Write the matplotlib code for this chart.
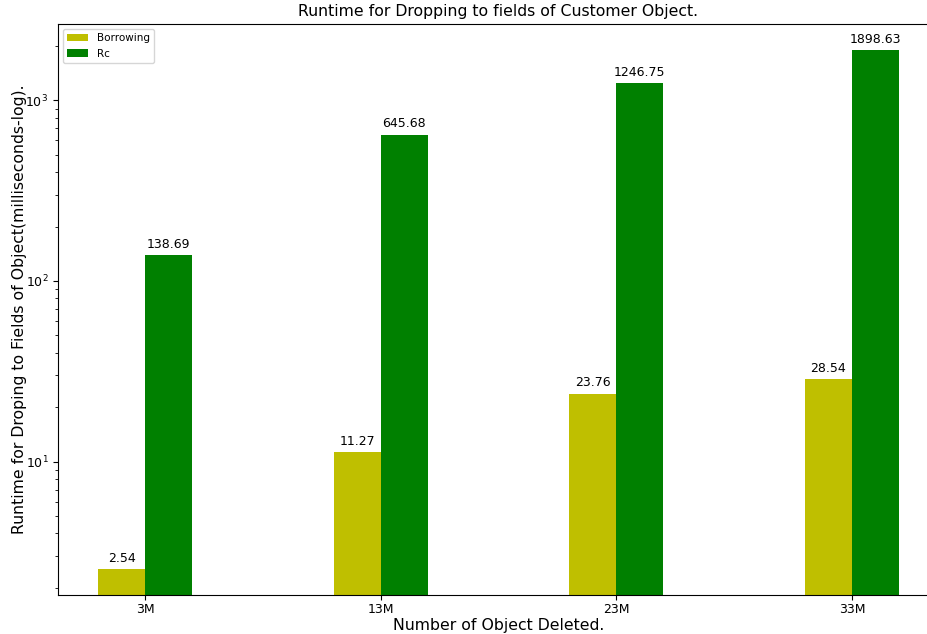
import numpy as np
import matplotlib
matplotlib.use('Agg')
import matplotlib.pyplot as plt

# Runtime (ms) for dropping fields of customer objects
labels = ['3M', '13M', '23M', '33M']
borrowing = [2.54, 11.27, 23.76, 28.54]
rc = [138.69, 645.68, 1246.75, 1898.63]

x = np.arange(len(labels))
width = 0.2

fig = plt.figure(figsize=(9.27, 6.34), dpi=100)
ax = fig.add_axes([58 / 927, 39 / 634, 881 / 927, 571 / 634])

bars1 = ax.bar(x - width / 2, borrowing, width, label='Borrowing', color='y')
bars2 = ax.bar(x + width / 2, rc, width, label='Rc', color='g')

ax.set_yscale('log')
ax.set_xticks(x)
ax.set_xticklabels(labels)
ax.set_title('Runtime for Dropping to fields of Customer Object.', fontsize=11.3)
ax.set_xlabel('Number of Object Deleted.', fontsize=11.3, labelpad=1)
ax.set_ylabel('Runtime for Droping to Fields of Object(milliseconds-log).',
              fontsize=11.3, labelpad=-1)
ax.tick_params(labelsize=9)
ax.tick_params(axis='x', pad=2.5)
ax.legend(loc='upper left', fontsize=7.5)


def autolabel(rects):
    for rect in rects:
        h = rect.get_height()
        ax.annotate('{}'.format(h),
                    xy=(rect.get_x() + rect.get_width() / 2, h),
                    xytext=(0, 3), textcoords='offset points',
                    ha='center', va='bottom', fontsize=9)


autolabel(bars1)
autolabel(bars2)

plt.savefig('out.png', dpi=100)
